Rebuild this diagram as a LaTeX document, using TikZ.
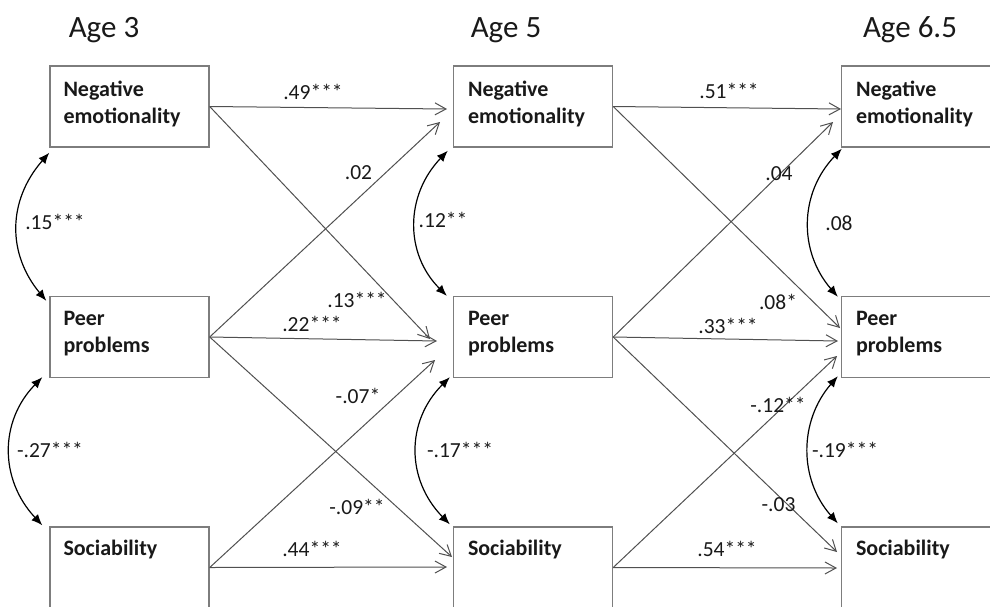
\documentclass[tikz,border=0pt]{standalone}
\usepackage{fontspec}
\setmainfont{Carlito}
\usetikzlibrary{arrows.meta,calc}
\definecolor{boxgray}{RGB}{125,125,125}
\definecolor{linegray}{RGB}{80,80,80}
\definecolor{ink}{RGB}{25,25,25}
\begin{document}
\begin{tikzpicture}[x=1pt,y=-1pt,
  box/.style={draw=boxgray, line width=1.4pt, minimum width=159pt, minimum height=81pt, inner sep=0pt},
  boxtext/.style={anchor=north west, inner sep=0pt, align=left, text=ink, font=\fontsize{22}{27}\selectfont\bfseries},
  head/.style={inner sep=0pt, text=ink, font=\fontsize{31}{34}\selectfont},
  lab/.style={inner sep=0pt, text=ink, font=\fontsize{21.5}{24}\selectfont},
  path/.style={draw=linegray, line width=1pt, -{Straight Barb[length=11pt,width=12pt,line width=1pt]}},
  cov/.style={draw=black, line width=1.2pt, {Latex[length=11pt,width=9pt]}-{Latex[length=11pt,width=9pt]}}
]
\clip (0,0) rectangle (990,606);
\useasboundingbox (0,0) rectangle (990,606);

% headers
\node[head] (h1) at (104,30) {Age 3};
\node[head] (h2) at (506,30) {Age 5};
\node[head] (h3) at (910,30) {Age 6.5};

% boxes
\node[box] (L1) at (129.5,106.5) {};
\node[box] (L2) at (129.5,337) {};
\node[box] (L3) at (129.5,567.5) {};
\node[box] (M1) at (533,106.5) {};
\node[box] (M2) at (533,337) {};
\node[box] (M3) at (533,567.5) {};
\node[box] (R1) at (921,106.5) {};
\node[box] (R2) at (921,337) {};
\node[box] (R3) at (921,567.5) {};

% box texts
\node[boxtext] (L1t) at ($(L1.north west)+(14,15.5)$) {Negative\\emotionality};
\node[boxtext] (L2t) at ($(L2.north west)+(14,15.5)$) {Peer\\problems};
\node[boxtext] (L3t) at ($(L3.north west)+(14,14)$) {Sociability};
\node[boxtext] (M1t) at ($(M1.north west)+(15,15.5)$) {Negative\\emotionality};
\node[boxtext] (M2t) at ($(M2.north west)+(15,15.5)$) {Peer\\problems};
\node[boxtext] (M3t) at ($(M3.north west)+(15,14)$) {Sociability};
\node[boxtext] (R1t) at ($(R1.north west)+(15,15.5)$) {Negative\\emotionality};
\node[boxtext] (R2t) at ($(R2.north west)+(15,15.5)$) {Peer\\problems};
\node[boxtext] (R3t) at ($(R3.north west)+(15,14)$) {Sociability};

% arrow tips
\coordinate (tM1h) at (447,109);
\coordinate (tM1d) at (440,122);
\coordinate (tM2a) at (430,339);
\coordinate (tM2h) at (437,341);
\coordinate (tM2b) at (435,360);
\coordinate (tM3d) at (452,557);
\coordinate (tM3h) at (447,567);
\coordinate (tR1h) at (841,109);
\coordinate (tR1d) at (833,122);
\coordinate (tR2a) at (840,328);
\coordinate (tR2h) at (838,341);
\coordinate (tR2b) at (837,356);
\coordinate (tR3d) at (837,552);
\coordinate (tR3h) at (837,568);

% Age 3 -> Age 5
\draw[path] (L1.east) -- (tM1h);
\draw[path] (L1.east) -- (tM2a);
\draw[path] (L2.east) -- (tM1d);
\draw[path] (L2.east) -- (tM2h);
\draw[path] (L2.east) -- (tM3d);
\draw[path] (L3.east) -- (tM2b);
\draw[path] (L3.east) -- (tM3h);

% Age 5 -> Age 6.5
\draw[path] (M1.east) -- (tR1h);
\draw[path] (M1.east) -- (tR2a);
\draw[path] (M2.east) -- (tR1d);
\draw[path] (M2.east) -- (tR2h);
\draw[path] (M2.east) -- (tR3d);
\draw[path] (M3.east) -- (tR2b);
\draw[path] (M3.east) -- (tR3h);

% covariances
\draw[cov] ($(L1.south west)+(0,5)$) .. controls +(-42,48) and +(-39,-47) .. ($(L2.north west)+(-3,5)$);
\draw[cov] ($(L2.south west)+(-7,-1)$) .. controls +(-43,44) and +(-43,-46) .. ($(L3.north west)+(-7,-1)$);
\draw[cov] ($(M1.south west)+(-5,3)$) .. controls +(-43,45) and +(-42,-42) .. ($(M2.north west)+(-6,0)$);
\draw[cov] ($(M2.south west)+(-3,-1)$) .. controls +(-44,44) and +(-44,-45) .. ($(M3.north west)+(-3,-2)$);
\draw[cov] ($(R1.south west)+(1,1)$) .. controls +(-43,45) and +(-39,-45) .. ($(R2.north west)+(-3,1)$);
\draw[cov] ($(R2.south west)+(-3,-2)$) .. controls +(-39,45) and +(-39,-44) .. ($(R3.north west)+(-3,-3)$);

% path labels
\node[lab] (l1) at (313,91.5) {.49***};
\node[lab] (l2) at (358.5,173) {.02};
\node[lab] (l3) at (357,300) {.13***};
\node[lab] (l4) at (312,324) {.22***};
\node[lab] (l5) at (358,396) {-.07*};
\node[lab] (l6) at (357,506.5) {-.09**};
\node[lab] (l7) at (312,549) {.44***};
\node[lab] (l8) at (729,91) {.51***};
\node[lab] (l9) at (779,174) {.04};
\node[lab] (l10) at (778,302) {.08*};
\node[lab] (l11) at (728,325.5) {.33***};
\node[lab] (l12) at (778,405) {-.12**};
\node[lab] (l13) at (778.5,505) {-.03};
\node[lab] (l14) at (727,549) {.54***};

% covariance labels
\node[lab] (c1) at (55,221.5) {.15***};
\node[lab] (c2) at (50,450) {-.27***};
\node[lab] (c3) at (443,220) {.12**};
\node[lab] (c4) at (460,450) {-.17***};
\node[lab] (c5) at (839,223) {.08};
\node[lab] (c6) at (845,449.5) {-.19***};
\end{tikzpicture}
\end{document}
